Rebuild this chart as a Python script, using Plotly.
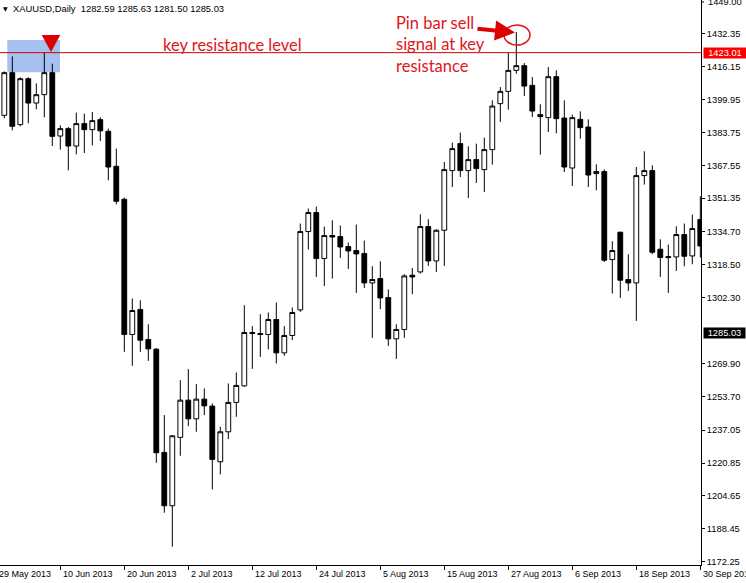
import plotly.graph_objects as go
import pandas as pd

# ---- data (XAUUSD daily, 30 May 2013 .. 30 Sep 2013) ----
dates = [d.strftime("%Y-%m-%d") for d in pd.bdate_range("2013-05-30", "2013-09-30")]
bar_index = list(range(1, len(dates) + 1))

opens = [1392.13, 1413.15, 1387.55, 1410.20, 1398.19, 1402.32, 1413.15, 1381.94, 1385.58, 1377.02,
         1388.05, 1385.09, 1390.01, 1384.26, 1367.03, 1350.78, 1284.18, 1296.49, 1281.72, 1276.94,
         1226.10, 1199.81, 1233.48, 1251.84, 1242.63, 1252.33, 1248.89, 1221.47, 1236.24, 1250.71,
         1258.88, 1285.17, 1284.67, 1284.18, 1291.56, 1275.12, 1283.69, 1296.29, 1334.88, 1344.24,
         1321.59, 1332.91, 1332.42, 1327.50, 1325.53, 1324.05, 1309.58, 1311.74, 1302.39, 1282.02,
         1286.64, 1313.37, 1315.00, 1337.34, 1320.41, 1335.52, 1364.91, 1378.20, 1364.91, 1370.32,
         1365.40, 1375.25, 1397.89, 1403.95, 1414.28, 1416.60, 1406.90, 1392.48, 1391.00, 1411.18,
         1390.80, 1366.19, 1390.16, 1386.37, 1363.43, 1364.42, 1321.10, 1334.54, 1311.25, 1309.58,
         1362.45, 1364.91, 1326.17, 1322.57, 1322.38, 1333.41, 1322.87, 1340.79]
highs = [1413.79, 1421.17, 1410.84, 1410.84, 1407.88, 1423.29, 1417.58, 1387.21, 1386.37, 1393.46,
         1392.97, 1393.76, 1391.15, 1385.58, 1375.74, 1351.62, 1301.90, 1301.06, 1289.25, 1277.44,
         1244.46, 1234.61, 1261.68, 1267.10, 1259.72, 1257.60, 1250.22, 1238.70, 1260.06, 1265.48,
         1298.60, 1288.27, 1294.17, 1295.01, 1299.93, 1288.27, 1297.47, 1338.82, 1346.20, 1347.19,
         1337.34, 1340.44, 1337.84, 1329.47, 1338.33, 1330.45, 1317.80, 1320.26, 1306.33, 1289.25,
         1313.86, 1316.96, 1343.40, 1340.94, 1336.01, 1369.14, 1378.69, 1383.61, 1376.87, 1378.20,
         1381.15, 1399.51, 1406.06, 1423.00, 1433.14, 1417.88, 1410.98, 1397.55, 1415.91, 1414.28,
         1399.51, 1392.48, 1394.10, 1390.16, 1368.01, 1365.55, 1330.11, 1334.88, 1323.71, 1366.68,
         1374.41, 1367.52, 1331.09, 1328.48, 1337.49, 1338.82, 1343.25, 1352.26]
lows = [1390.65, 1384.75, 1386.72, 1388.19, 1395.08, 1391.15, 1377.02, 1375.25, 1365.06, 1372.93,
        1373.57, 1377.36, 1379.48, 1360.13, 1348.32, 1275.61, 1268.72, 1275.61, 1271.19, 1220.97,
        1196.36, 1179.63, 1224.42, 1239.04, 1236.24, 1244.46, 1207.88, 1215.27, 1232.64, 1243.62,
        1258.39, 1267.25, 1273.15, 1276.80, 1269.91, 1273.65, 1281.37, 1295.31, 1326.02, 1312.53,
        1308.10, 1311.74, 1321.89, 1316.47, 1304.66, 1307.12, 1282.51, 1296.63, 1278.57, 1272.17,
        1282.51, 1304.02, 1314.21, 1317.95, 1315.00, 1317.95, 1356.84, 1361.76, 1351.42, 1358.81,
        1354.38, 1367.86, 1388.83, 1394.94, 1412.66, 1401.63, 1391.29, 1372.79, 1383.91, 1383.27,
        1364.22, 1357.33, 1380.66, 1356.84, 1355.21, 1319.92, 1304.36, 1302.20, 1305.64, 1290.88,
        1358.02, 1323.71, 1312.53, 1304.66, 1315.49, 1317.80, 1318.79, 1322.08]
closes = [1413.15, 1386.72, 1410.20, 1398.19, 1402.32, 1413.15, 1381.79, 1385.58, 1377.02, 1388.05,
          1385.09, 1389.52, 1384.50, 1366.68, 1349.80, 1284.18, 1295.99, 1281.37, 1277.09, 1225.90,
          1199.81, 1234.26, 1251.84, 1242.63, 1252.33, 1249.03, 1222.65, 1236.24, 1250.71, 1259.07,
          1285.17, 1284.67, 1284.18, 1291.56, 1275.12, 1283.69, 1295.01, 1334.88, 1344.24, 1321.59,
          1332.91, 1332.22, 1327.30, 1325.33, 1323.86, 1309.58, 1311.25, 1302.20, 1282.02, 1286.64,
          1313.03, 1312.53, 1337.34, 1320.41, 1335.52, 1365.40, 1375.74, 1364.91, 1370.32, 1365.89,
          1375.25, 1396.71, 1403.95, 1414.28, 1416.60, 1406.55, 1394.25, 1391.49, 1411.18, 1390.51,
          1366.68, 1391.00, 1386.08, 1362.74, 1364.42, 1320.75, 1325.53, 1310.91, 1309.58, 1362.45,
          1364.91, 1324.69, 1322.08, 1322.08, 1333.41, 1322.72, 1336.36, 1327.79]

x_tick_pos = [0, 8, 16, 24, 32, 40, 48, 56, 64, 72, 80, 88]
x_tick_text = ["29 May 2013", "10 Jun 2013", "20 Jun 2013", "2 Jul 2013", "12 Jul 2013",
               "24 Jul 2013", "5 Aug 2013", "15 Aug 2013", "27 Aug 2013", "6 Sep 2013",
               "18 Sep 2013", "30 Sep 2013"]
y_tick_vals = [1432.35, 1416.15, 1399.95, 1383.75, 1367.55, 1351.35, 1334.70, 1318.50,
               1302.30, 1269.90, 1253.70, 1237.05, 1220.85, 1204.65, 1188.45, 1172.25]
y_top_label = 1449.00

resistance_level = 1423.01
last_price = 1285.03
header = "XAUUSD,Daily  1282.59 1285.63 1281.50 1285.03"

# ---- geometry helpers (pixel -> data) for annotations ----
W, H = 746, 583
ML, MR, MT, MB = 0, 45, 0, 18
PW, PH = W - ML - MR, H - MT - MB
XMIN, XMAX = 0.4625, 88.0875
YMIN, YMAX = 1170.62, 1448.95


def px2x(px):
    return XMIN + (px - ML) / PW * (XMAX - XMIN)


def py2p(py):
    return YMAX - (py - MT) / PH * (YMAX - YMIN)


RED = "#e0161b"
AXF = "Liberation Sans, Arial, sans-serif"

fig = go.Figure()
fig.add_trace(go.Candlestick(
    x=bar_index, open=opens, high=highs, low=lows, close=closes,
    increasing=dict(line=dict(color="black", width=1), fillcolor="white"),
    decreasing=dict(line=dict(color="black", width=1), fillcolor="black"),
    whiskerwidth=0, showlegend=False, hoverinfo="skip",
))

shapes = [
    dict(type="rect", xref="x", yref="y", x0=px2x(7.3), x1=px2x(60), y0=py2p(72.3), y1=py2p(40),
         fillcolor="#a6c1f0", line=dict(width=0), layer="below"),
    dict(type="line", xref="paper", yref="y", x0=0, x1=1, y0=resistance_level, y1=resistance_level,
         line=dict(color="#d40000", width=1)),
    dict(type="path", xref="x", yref="y",
         path=f"M {px2x(41.7)},{py2p(35)} L {px2x(60.3)},{py2p(35)} L {px2x(51)},{py2p(52)} Z",
         fillcolor="#dc0000", line=dict(width=0)),
    dict(type="circle", xref="x", yref="y", x0=px2x(504), x1=px2x(530), y0=py2p(45), y1=py2p(25),
         line=dict(color=RED, width=1.5)),
    # small tick for the top (partly hidden) price label
    dict(type="line", xref="paper", yref="paper", x0=1, x1=1 + 3 / PW, y0=1 - 2 / PH, y1=1 - 2 / PH,
         line=dict(color="black", width=1)),
]

annotations = [
    dict(xref="x", yref="y", x=px2x(161), y=py2p(45), text="key resistance level",
         showarrow=False, xanchor="left", yanchor="middle",
         font=dict(family="Lato", size=16.5, color=RED)),
    dict(xref="x", yref="y", x=px2x(394), y=py2p(44.5),
         text="Pin bar sell<br>signal at key<br>resistance", align="left",
         showarrow=False, xanchor="left", yanchor="middle",
         font=dict(family="Lato", size=16.5, color=RED)),
    dict(xref="x", yref="y", x=px2x(515), y=py2p(32.5), ax=-39, ay=-4, text="",
         showarrow=True, arrowhead=2, arrowsize=1, arrowwidth=4, arrowcolor="#dc0000", standoff=0),
    dict(xref="paper", yref="paper", x=11 / PW, y=1 - 8 / PH, text=header,
         showarrow=False, xanchor="left", yanchor="middle",
         font=dict(family=AXF, size=9.4, color="black")),
    dict(xref="paper", yref="paper", x=0.5 / PW, y=1 - 8 / PH, text="▼",
         showarrow=False, xanchor="left", yanchor="middle",
         font=dict(family="DejaVu Sans", size=6, color="black")),
    dict(xref="paper", yref="paper", x=1 + 5 / PW, y=1 - 2 / PH, text=f"{y_top_label:.2f}",
         showarrow=False, xanchor="left", yanchor="middle",
         font=dict(family=AXF, size=9.3, color="black")),
    dict(xref="paper", yref="y", x=1 + 2 / PW, y=resistance_level, text=f"{resistance_level:.2f}",
         showarrow=False, xanchor="left", yanchor="middle", bgcolor="#ff0000",
         width=42, height=10, borderpad=0, align="center",
         font=dict(family=AXF, size=9.3, color="white")),
    dict(xref="paper", yref="y", x=1 + 2 / PW, y=last_price, text=f"{last_price:.2f}",
         showarrow=False, xanchor="left", yanchor="middle", bgcolor="black",
         width=41, height=10, borderpad=0, align="center",
         font=dict(family=AXF, size=9.3, color="white")),
]
for pos, txt in zip(x_tick_pos, x_tick_text):
    annotations.append(dict(xref="paper", yref="paper", x=(pos - XMIN) / (XMAX - XMIN), y=0,
                            text=txt, showarrow=False, xanchor="left", yanchor="top",
                            xshift=1, yshift=-2,
                            font=dict(family=AXF, size=9, color="black")))

fig.update_layout(
    width=W, height=H, margin=dict(l=ML, r=MR, t=MT, b=MB),
    paper_bgcolor="white", plot_bgcolor="white",
    boxgap=0.4, boxgroupgap=0,
    shapes=shapes, annotations=annotations,
    xaxis=dict(range=[XMIN, XMAX], rangeslider=dict(visible=False), showgrid=False, zeroline=False,
               showline=True, linecolor="black", linewidth=1, ticks="outside", ticklen=4,
               tickcolor="black", tickvals=x_tick_pos, showticklabels=False, fixedrange=True),
    yaxis=dict(range=[YMIN, YMAX], side="right", showgrid=False, zeroline=False,
               showline=True, linecolor="black", linewidth=1, ticks="outside", ticklen=3,
               tickcolor="black", tickvals=y_tick_vals, ticktext=[f"{v:.2f}" for v in y_tick_vals],
               tickfont=dict(family=AXF, size=9.3, color="black"), fixedrange=True),
)

fig.write_html("out.html", config={"displayModeBar": False},
               post_script="document.body.style.margin='0';document.body.style.overflow='hidden';")
